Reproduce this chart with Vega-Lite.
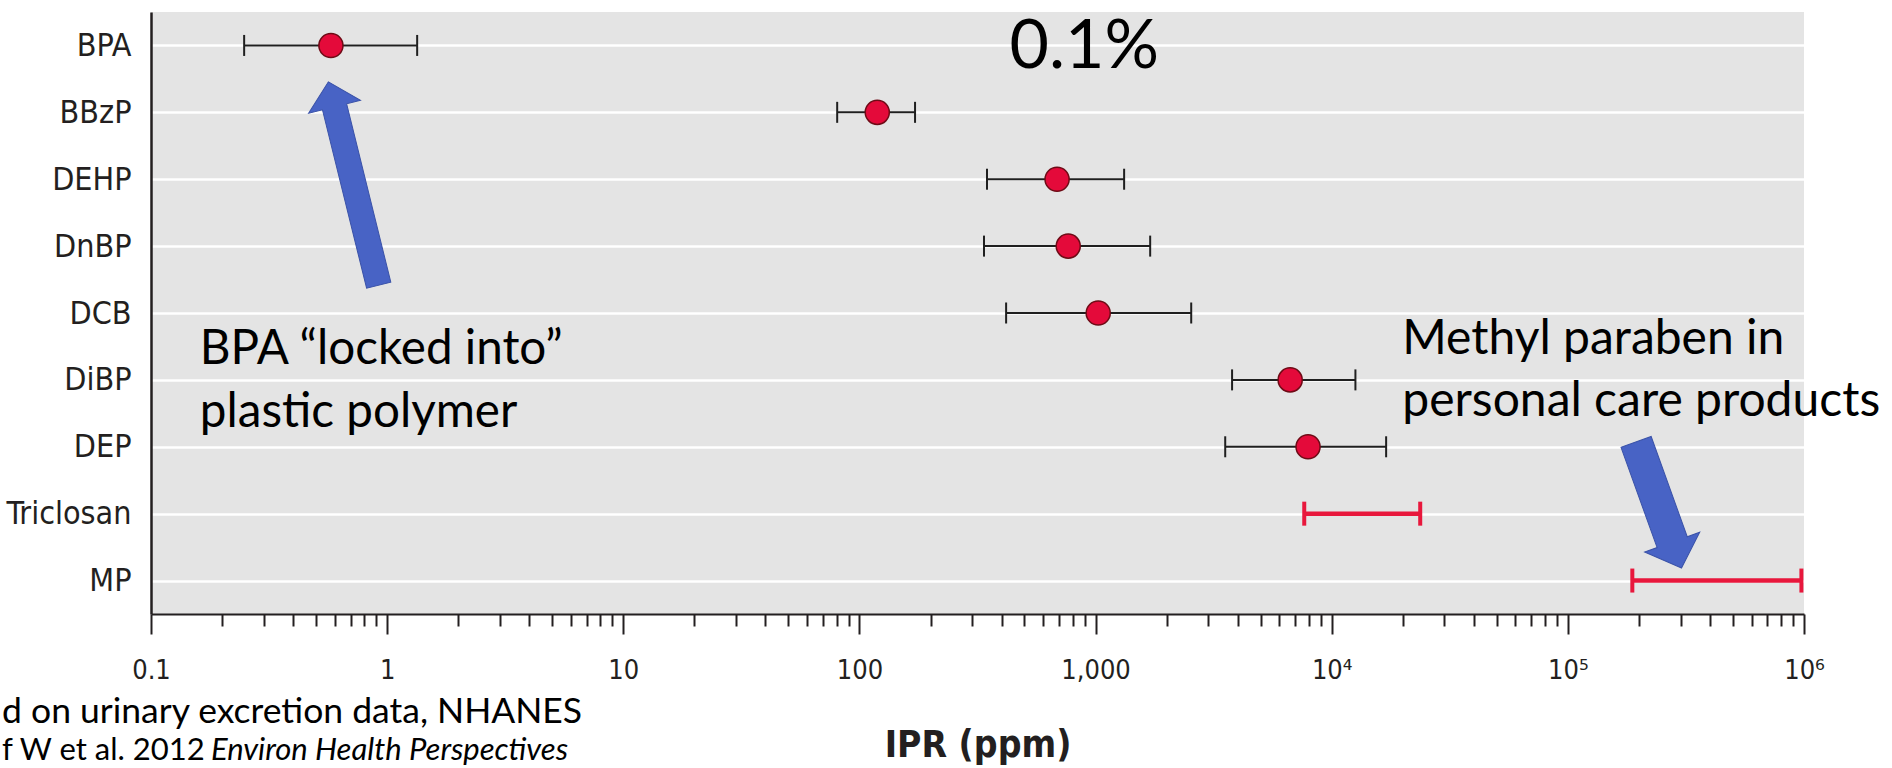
{
  "$schema": "https://vega.github.io/schema/vega-lite/v6.json",
  "width": 1653,
  "height": 602,
  "autosize": {"type": "none"},
  "padding": {"left": 151, "top": 12, "right": 88, "bottom": 154},
  "background": "#ffffff",
  "config": {"view": {"fill": "#e4e4e4", "stroke": null}},
  "datasets": {
    "ipr": [
      {"chem": "BPA", "lo": 0.248, "mid": 0.578, "hi": 1.34},
      {"chem": "BBzP", "lo": 80.5, "mid": 119, "hi": 172},
      {"chem": "DEHP", "lo": 347, "mid": 687, "hi": 1321},
      {"chem": "DnBP", "lo": 337, "mid": 766, "hi": 1703},
      {"chem": "DCB", "lo": 418, "mid": 1026, "hi": 2541},
      {"chem": "DiBP", "lo": 3785, "mid": 6670, "hi": 12600},
      {"chem": "DEP", "lo": 3540, "mid": 7940, "hi": 17000},
      {"chem": "Triclosan", "lo": 7650, "mid": null, "hi": 23700},
      {"chem": "MP", "lo": 187500, "mid": null, "hi": 975000}
    ]
  },
  "layer": [
    {
      "data": {"name": "ipr"},
      "transform": [{"filter": "isValid(datum.mid)"}],
      "mark": {"type": "rule", "color": "#1f1f1f", "strokeWidth": 2},
      "encoding": {
        "x": {
          "field": "lo", "type": "quantitative", "title": "IPR (ppm)",
          "scale": {"type": "log", "domain": [0.1, 1000000], "nice": false},
          "axis": {
            "values": [0.1,0.2,0.3,0.4,0.5,0.6,0.7,0.8,0.9,1,2,3,4,5,6,7,8,9,10,20,30,40,50,60,70,80,90,100,200,300,400,500,600,700,800,900,1000,2000,3000,4000,5000,6000,7000,8000,9000,10000,20000,30000,40000,50000,60000,70000,80000,90000,100000,200000,300000,400000,500000,600000,700000,800000,900000,1000000],
            "grid": false,
            "domainColor": "#231f20", "domainWidth": 2,
            "tickColor": "#231f20", "tickWidth": 2,
            "tickSize": {"condition": {"test": "indexof([0.1,1,10,100,1000,10000,100000,1000000], datum.value) >= 0", "value": 20}, "value": 12},
            "labelExpr": "datum.value == 0.1 ? '0.1' : datum.value == 1 ? '1' : datum.value == 10 ? '10' : datum.value == 100 ? '100' : datum.value == 1000 ? '1,000' : datum.value == 10000 ? '10⁴' : datum.value == 100000 ? '10⁵' : datum.value == 1000000 ? '10⁶' : ''",
            "labelFont": "Liberation Sans Narrow, DejaVu Sans Condensed, sans-serif",
            "labelFontSize": 27, "labelColor": "#231f20",
            "labelPadding": 23, "labelOverlap": false, "labelFlush": false, "labelBound": false,
            "titleFont": "Liberation Sans Narrow, DejaVu Sans Condensed, sans-serif",
            "titleFontSize": 37, "titleFontWeight": "bold", "titleColor": "#231f20",
            "titleX": 826.5, "titleY": 142, "titleBaseline": "alphabetic", "titleAlign": "center"
          }
        },
        "x2": {"field": "hi"},
        "y": {
          "field": "chem", "type": "nominal", "title": null,
          "scale": {"type": "point", "padding": 0.5, "domain": ["BPA","BBzP","DEHP","DnBP","DCB","DiBP","DEP","Triclosan","MP"]},
          "axis": {
            "title": null, "grid": true, "gridColor": "#ffffff", "gridWidth": 2.5,
            "ticks": false, "domainColor": "#231f20", "domainWidth": 2.5,
            "labelFont": "Liberation Sans Narrow, DejaVu Sans Condensed, sans-serif",
            "labelFontSize": 32, "labelColor": "#231f20", "labelPadding": 20
          }
        }
      }
    },
    {
      "data": {"name": "ipr"},
      "transform": [{"filter": "isValid(datum.mid)"}],
      "mark": {"type": "tick", "color": "#1f1f1f", "size": 21, "thickness": 2, "opacity": 1},
      "encoding": {
        "x": {"field": "lo", "type": "quantitative", "title": "IPR (ppm)"},
        "y": {"field": "chem", "type": "nominal", "title": null}
      }
    },
    {
      "data": {"name": "ipr"},
      "transform": [{"filter": "isValid(datum.mid)"}],
      "mark": {"type": "tick", "color": "#1f1f1f", "size": 21, "thickness": 2, "opacity": 1},
      "encoding": {
        "x": {"field": "hi", "type": "quantitative", "title": "IPR (ppm)"},
        "y": {"field": "chem", "type": "nominal", "title": null}
      }
    },
    {
      "data": {"name": "ipr"},
      "transform": [{"filter": "!isValid(datum.mid)"}],
      "mark": {"type": "rule", "color": "#e8173c", "strokeWidth": 4.5},
      "encoding": {
        "x": {"field": "lo", "type": "quantitative", "title": "IPR (ppm)"},
        "x2": {"field": "hi"},
        "y": {"field": "chem", "type": "nominal", "title": null}
      }
    },
    {
      "data": {"name": "ipr"},
      "transform": [{"filter": "!isValid(datum.mid)"}],
      "mark": {"type": "tick", "color": "#e8173c", "size": 24, "thickness": 4, "opacity": 1},
      "encoding": {
        "x": {"field": "lo", "type": "quantitative", "title": "IPR (ppm)"},
        "y": {"field": "chem", "type": "nominal", "title": null}
      }
    },
    {
      "data": {"name": "ipr"},
      "transform": [{"filter": "!isValid(datum.mid)"}],
      "mark": {"type": "tick", "color": "#e8173c", "size": 24, "thickness": 4, "opacity": 1},
      "encoding": {
        "x": {"field": "hi", "type": "quantitative", "title": "IPR (ppm)"},
        "y": {"field": "chem", "type": "nominal", "title": null}
      }
    },
    {
      "data": {"name": "ipr"},
      "transform": [{"filter": "isValid(datum.mid)"}],
      "mark": {"type": "circle", "size": 580, "fill": "#e40a3a", "stroke": "#6e0b16", "strokeWidth": 1.5, "opacity": 1},
      "encoding": {
        "x": {"field": "mid", "type": "quantitative", "title": "IPR (ppm)"},
        "y": {"field": "chem", "type": "nominal", "title": null}
      }
    },
    {
      "data": {"values": [{"note": "0.1%", "ipr": 895, "chem": "BPA"}]},
      "mark": {"type": "text", "font": "Lato", "fontSize": 68, "align": "center", "baseline": "alphabetic", "dy": 23, "color": "#000000"},
      "encoding": {
        "x": {"field": "ipr", "type": "quantitative", "title": "IPR (ppm)"},
        "y": {"field": "chem", "type": "nominal", "title": null},
        "text": {"field": "note"}
      }
    },
    {
      "data": {"values": [{"note": ["BPA “locked into”", "plastic polymer"], "ipr": 0.161, "chem": "DiBP"}]},
      "mark": {"type": "text", "font": "Lato", "fontSize": 47.6, "align": "left", "baseline": "alphabetic", "dy": -16, "lineHeight": 63, "color": "#000000"},
      "encoding": {
        "x": {"field": "ipr", "type": "quantitative", "title": "IPR (ppm)"},
        "y": {"field": "chem", "type": "nominal", "title": null},
        "text": {"field": "note"}
      }
    },
    {
      "data": {"values": [{"note": ["Methyl paraben in", "personal care products"], "ipr": 19900, "chem": "DiBP"}]},
      "mark": {"type": "text", "font": "Lato", "fontSize": 48, "align": "left", "baseline": "alphabetic", "dy": -26, "lineHeight": 62, "color": "#000000"},
      "encoding": {
        "x": {"field": "ipr", "type": "quantitative", "title": "IPR (ppm)"},
        "y": {"field": "chem", "type": "nominal", "title": null},
        "text": {"field": "note"}
      }
    },
    {
      "data": {"values": [{"note": "d on urinary excretion data, NHANES", "ipr": 0.0234, "chem": "MP"}]},
      "mark": {"type": "text", "font": "Lato", "fontSize": 35.5, "align": "left", "baseline": "alphabetic", "dy": 142, "color": "#000000"},
      "encoding": {
        "x": {"field": "ipr", "type": "quantitative", "title": "IPR (ppm)"},
        "y": {"field": "chem", "type": "nominal", "title": null},
        "text": {"field": "note"}
      }
    },
    {
      "data": {"values": [{"note": "f W et al. 2012", "ipr": 0.0234, "chem": "MP"}]},
      "mark": {"type": "text", "font": "Lato", "fontSize": 31, "align": "left", "baseline": "alphabetic", "dy": 179, "color": "#000000"},
      "encoding": {
        "x": {"field": "ipr", "type": "quantitative", "title": "IPR (ppm)"},
        "y": {"field": "chem", "type": "nominal", "title": null},
        "text": {"field": "note"}
      }
    },
    {
      "data": {"values": [{"note": "Environ Health Perspectives", "ipr": 0.1795, "chem": "MP"}]},
      "mark": {"type": "text", "font": "Lato", "fontSize": 31, "fontStyle": "italic", "align": "left", "baseline": "alphabetic", "dy": 179, "color": "#000000"},
      "encoding": {
        "x": {"field": "ipr", "type": "quantitative", "title": "IPR (ppm)"},
        "y": {"field": "chem", "type": "nominal", "title": null},
        "text": {"field": "note"}
      }
    },
    {
      "data": {"values": [{"arrow": "BPA", "ipr": 0.7206, "chem": "DEHP"}]},
      "mark": {"type": "point", "shape": "M0,-1L0.255,-0.755L0.119,-0.755L0.119,1L-0.119,1L-0.119,-0.755L-0.255,-0.755Z", "size": 43890, "angle": 346.1, "filled": true, "fill": "#4863c5", "stroke": "#3a52a8", "strokeWidth": 1, "opacity": 1, "yOffset": 4.3},
      "encoding": {
        "x": {"field": "ipr", "type": "quantitative", "title": "IPR (ppm)"},
        "y": {"field": "chem", "type": "nominal", "title": null}
      }
    },
    {
      "data": {"values": [{"arrow": "MP", "ipr": 242700, "chem": "Triclosan"}]},
      "mark": {"type": "point", "shape": "M0,-1L0.437,-0.59L0.239,-0.59L0.239,1L-0.239,1L-0.239,-0.59L-0.437,-0.59Z", "size": 17956, "angle": 160.2, "filled": true, "fill": "#4863c5", "stroke": "#3a52a8", "strokeWidth": 1, "opacity": 1, "yOffset": -8.7},
      "encoding": {
        "x": {"field": "ipr", "type": "quantitative", "title": "IPR (ppm)"},
        "y": {"field": "chem", "type": "nominal", "title": null}
      }
    }
  ]
}
